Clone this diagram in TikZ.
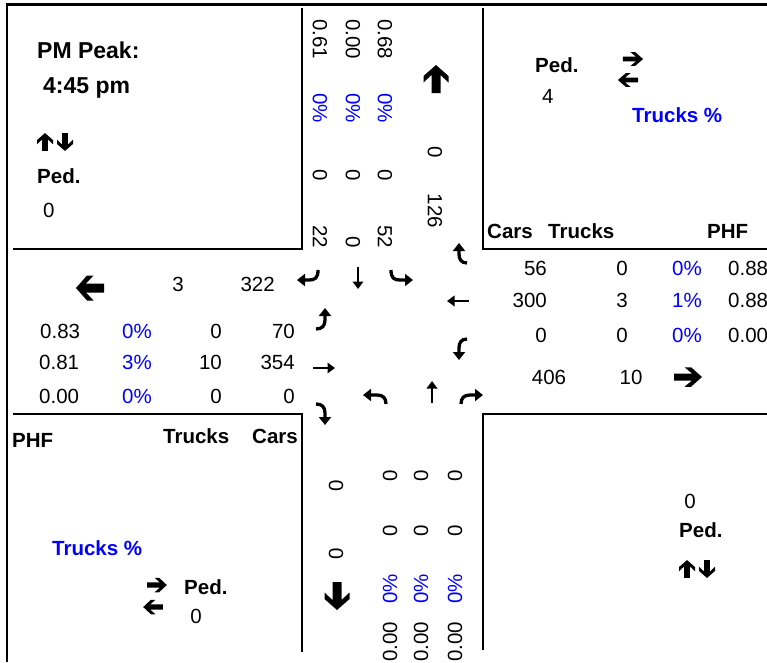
\documentclass[tikz,border=0pt]{standalone}
\usepackage{fontspec}
\setmainfont{Liberation Sans}
\usetikzlibrary{arrows.meta}
\definecolor{pctblue}{RGB}{0,0,255}
\tikzset{
  num/.style={font=\fontsize{20.5pt}{24pt}\selectfont, inner sep=0pt},
  lab/.style={font=\bfseries\fontsize{20.5pt}{24pt}\selectfont, inner sep=0pt},
  title/.style={font=\bfseries\fontsize{23pt}{27pt}\selectfont, inner sep=0pt},
  pct/.style={num, text=pctblue},
  bpct/.style={lab, text=pctblue},
  frameline/.style={line width=2.3pt, line join=miter},
  thinarrow/.style={line width=2pt, -{Triangle[length=7.5pt,width=10.5pt]}},
  hookarrow/.style={line width=3.3pt, -{Triangle[length=8pt,width=12pt]}},
  barrow/.pic={\fill (14,0) -- (3,-12.5) -- (-3.5,-12.5) -- (4,-4.5) -- (-14,-4.5) -- (-14,4.5) -- (4,4.5) -- (-3.5,12.5) -- (3,12.5) -- cycle;}
}
\begin{document}
\begin{tikzpicture}[x=1pt,y=-1pt]
\useasboundingbox[fill=white] (0,0) rectangle (767,662);

% ---- frame and corner boxes ----
\draw[frameline, line width=2.6pt] (7,662) -- (7,4.5) -- (767,4.5);
\draw[frameline] (302,8) -- (302,249) -- (13,249);
\draw[frameline] (483,8) -- (483,249) -- (767,249);
\draw[frameline] (13,414) -- (302,414) -- (302,652);
\draw[frameline] (767,414) -- (483,414) -- (483,650);

% ---- top-left box ----
\node[title, anchor=base west] (pm) at (37,58) {PM Peak:};
\node[title, anchor=base west] (tm) at (43,93) {4:45 pm};
\pic[rotate=90, scale=0.64] at (45,142) {barrow};
\pic[rotate=-90, scale=0.64] at (65,142) {barrow};
\node[lab, anchor=base west] (pedtl) at (37,183) {Ped.};
\node[num, anchor=base west] (pedtlv) at (43,217) {0};

% ---- top approach (southbound) ----
\node[num, rotate=-90] (s1) at (320,39) {0.61};
\node[num, rotate=-90] (s2) at (353,39) {0.00};
\node[num, rotate=-90] (s3) at (385,39) {0.68};
\node[pct, rotate=-90] (s4) at (320,108) {0\%};
\node[pct, rotate=-90] (s5) at (353,108) {0\%};
\node[pct, rotate=-90] (s6) at (385,108) {0\%};
\node[num, rotate=-90] (s7) at (320,175) {0};
\node[num, rotate=-90] (s8) at (353,175) {0};
\node[num, rotate=-90] (s9) at (385,175) {0};
\node[num, rotate=-90, anchor=east] (s10) at (320,248) {22};
\node[num, rotate=-90, anchor=east] (s11) at (353,248) {0};
\node[num, rotate=-90, anchor=east] (s12) at (385,248) {52};
\node[num, rotate=-90] (s13) at (435,152) {0};
\node[num, rotate=-90] (s14) at (435,211) {126};
\pic[rotate=90] at (436,79) {barrow};

% ---- top-right box ----
\node[lab, anchor=base west] (pedtr) at (535,72) {Ped.};
\node[num, anchor=base west] (pedtrv) at (542,103) {4};
\pic[xscale=0.72, yscale=0.55] at (633,59) {barrow};
\pic[xscale=0.72, yscale=0.55, rotate=180] at (628,80) {barrow};
\node[bpct, anchor=base west] (trtr) at (632,122) {Trucks \%};
\node[lab, anchor=base west] (carsr) at (487,238) {Cars};
\node[lab, anchor=base west] (trucksr) at (548,238) {Trucks};
\node[lab, anchor=base west] (phfr) at (707,238) {PHF};

% ---- right approach (westbound) ----
\node[num, anchor=east] (w1) at (547,268) {56};
\node[num, anchor=east] (w2) at (547,300) {300};
\node[num, anchor=east] (w3) at (547,335) {0};
\node[num] (w4) at (622,268) {0};
\node[num] (w5) at (622,300) {3};
\node[num] (w6) at (622,335) {0};
\node[pct, anchor=east] (w7) at (702,268) {0\%};
\node[pct, anchor=east] (w8) at (702,300) {1\%};
\node[pct, anchor=east] (w9) at (702,335) {0\%};
\node[num, anchor=west] (w10) at (728,268) {0.88};
\node[num, anchor=west] (w11) at (728,300) {0.88};
\node[num, anchor=west] (w12) at (728,335) {0.00};
\node[num] (w13) at (549,377) {406};
\node[num] (w14) at (631,377) {10};
\pic[yscale=0.78] at (688,377) {barrow};

% ---- left approach (eastbound) ----
\pic[rotate=180] at (90,288) {barrow};
\node[num] (e1) at (178,284) {3};
\node[num, anchor=east] (e2) at (275,284) {322};
\node[num, anchor=west] (e3) at (40,331) {0.83};
\node[num, anchor=west] (e4) at (39,362) {0.81};
\node[num, anchor=west] (e5) at (39,396) {0.00};
\node[pct, anchor=west] (e6) at (122,331) {0\%};
\node[pct, anchor=west] (e7) at (122,362) {3\%};
\node[pct, anchor=west] (e8) at (122,396) {0\%};
\node[num, anchor=east] (e9) at (222,331) {0};
\node[num, anchor=east] (e10) at (222,362) {10};
\node[num, anchor=east] (e11) at (222,396) {0};
\node[num, anchor=east] (e12) at (295,331) {70};
\node[num, anchor=east] (e13) at (295,362) {354};
\node[num, anchor=east] (e14) at (295,396) {0};

% ---- bottom-left box ----
\node[lab, anchor=base west] (phfl) at (12,447) {PHF};
\node[lab, anchor=base west] (trucksl) at (163,443) {Trucks};
\node[lab, anchor=base west] (carsl) at (252,443) {Cars};
\node[bpct, anchor=base west] (trbl) at (52,555) {Trucks \%};
\pic[xscale=0.7, yscale=0.58] at (157,585) {barrow};
\pic[xscale=0.7, yscale=0.58, rotate=180] at (153,607) {barrow};
\node[lab, anchor=base west] (pedbl) at (184,594) {Ped.};
\node[num] (pedblv) at (196,616) {0};

% ---- bottom approach (northbound) ----
\node[num, rotate=90] (n1) at (336,486) {0};
\node[num, rotate=90] (n2) at (336,554) {0};
\pic[rotate=-90] at (337,596) {barrow};
\node[num, rotate=90] (n3) at (390,476) {0};
\node[num, rotate=90] (n4) at (421,476) {0};
\node[num, rotate=90] (n5) at (455,476) {0};
\node[num, rotate=90] (n6) at (390,531) {0};
\node[num, rotate=90] (n7) at (421,531) {0};
\node[num, rotate=90] (n8) at (455,531) {0};
\node[pct, rotate=90] (n9) at (390,589) {0\%};
\node[pct, rotate=90] (n10) at (421,589) {0\%};
\node[pct, rotate=90] (n11) at (455,589) {0\%};
\node[num, rotate=90] (n12) at (390,642) {0.00};
\node[num, rotate=90] (n13) at (421,642) {0.00};
\node[num, rotate=90] (n14) at (455,642) {0.00};

% ---- bottom-right box ----
\node[num] (pedbrv) at (690,501) {0};
\node[lab, anchor=base west] (pedbr) at (679,537) {Ped.};
\pic[rotate=90, scale=0.64] at (687,569) {barrow};
\pic[rotate=-90, scale=0.64] at (707,569) {barrow};

% ---- movement arrows in the intersection ----
% southbound
\draw[hookarrow] (318,270) .. controls (318,278) and (315,280) .. (309,280) -- (297,280);
\draw[thinarrow] (358,267) -- (358,289);
\draw[hookarrow] (391,270) .. controls (391,278) and (394,280) .. (400,280) -- (413,280);
% westbound
\draw[hookarrow] (467,263) .. controls (461,263) and (459,259) .. (459,254) -- (459,243);
\draw[thinarrow] (469,301) -- (447,301);
\draw[hookarrow] (467,339) .. controls (461,339) and (459,343) .. (459,348) -- (459,360);
% northbound
\draw[hookarrow] (386,404) .. controls (386,398) and (383,395) .. (377,395) -- (363,395);
\draw[thinarrow] (432,403) -- (432,381);
\draw[hookarrow] (461,404) .. controls (461,398) and (464,395) .. (470,395) -- (483,395);
% eastbound
\draw[hookarrow] (316,329) .. controls (322,329) and (325,326) .. (325,320) -- (325,308);
\draw[thinarrow] (313,368) -- (335,368);
\draw[hookarrow] (316,404) .. controls (322,404) and (325,407) .. (325,413) -- (325,425);
\end{tikzpicture}
\end{document}
